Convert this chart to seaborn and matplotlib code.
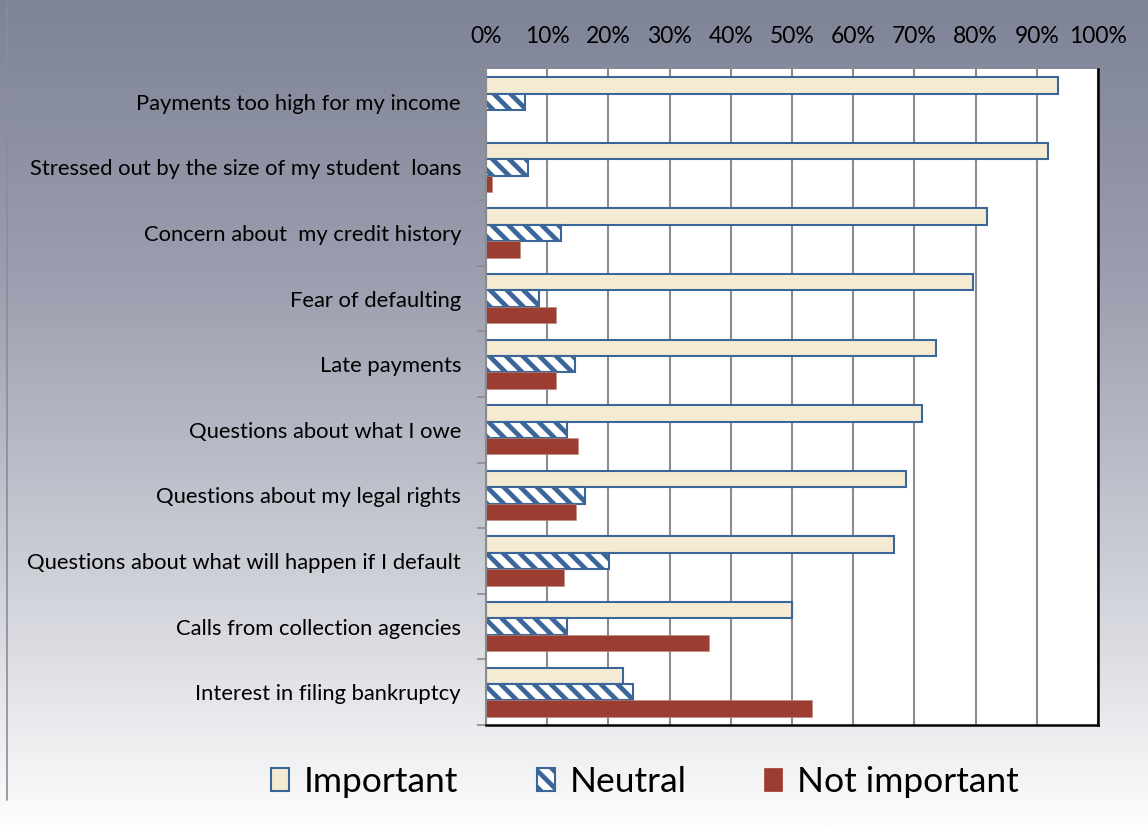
import matplotlib
matplotlib.use("Agg")
import matplotlib.pyplot as plt
import numpy as np
import pandas as pd
import seaborn as sns
from matplotlib.colors import LinearSegmentedColormap
from matplotlib.lines import Line2D
from matplotlib.patches import Patch
from matplotlib.ticker import FixedLocator, FuncFormatter

# Survey results: share of borrowers rating each concern
categories = [
    "Payments too high for my income",
    "Stressed out by the size of my student  loans",
    "Concern about  my credit history",
    "Fear of defaulting",
    "Late payments",
    "Questions about what I owe",
    "Questions about my legal rights",
    "Questions about what will happen if I default",
    "Calls from collection agencies",
    "Interest in filing bankruptcy",
]
important = [93.5, 91.8, 81.8, 79.5, 73.6, 71.3, 68.7, 66.7, 50.0, 22.4]
neutral = [6.4, 6.8, 12.3, 8.7, 14.5, 13.3, 16.2, 20.1, 13.2, 24.0]
not_important = [0.0, 1.0, 5.6, 11.4, 11.4, 15.0, 14.7, 12.7, 36.5, 53.2]
series = ["Important", "Neutral", "Not important"]
x_ticks = list(range(0, 101, 10))

df = pd.DataFrame({
    "category": categories * 3,
    "series": [series[0]] * 10 + [series[1]] * 10 + [series[2]] * 10,
    "value": important + neutral + not_important,
})

CREAM = "#F4EBD2"
BLUE = "#3B6699"
RED = "#9B3D30"
GRID = "#8C8C8C"

sns.set_theme(style="white")
plt.rcParams["font.family"] = ["Lato", "DejaVu Sans"]
plt.rcParams["hatch.linewidth"] = 3.4

W, H = 1148, 826
fig = plt.figure(figsize=(W / 100, H / 100), dpi=100)
fig.patch.set_facecolor("#ffffff")

# vertical slate-to-white backdrop
bg = fig.add_axes([0, 0, 1, 1], zorder=-10)
cmap = LinearSegmentedColormap.from_list(
    "backdrop", ["#7E8396", "#9A9EAE", "#C9CBD4", "#FDFDFD"])
bg.imshow(np.linspace(0, 1, 512)[:, None], aspect="auto", cmap=cmap,
          extent=[0, 1, 0, 1], origin="upper")
bg.set_xlim(0, 1)
bg.set_ylim(0, 1)
bg.axis("off")
fig.add_artist(Line2D([7 / W, 7 / W], [1 - 2 / H, 1 - 800 / H],
                      color="#8A8D99", lw=1.2))

ax = fig.add_axes([486 / W, 1 - 725 / H, 612 / W, 656 / H])
ax.set_facecolor("white")
sns.barplot(data=df, x="value", y="category", hue="series",
            order=categories, hue_order=series, orient="h",
            width=0.75, errorbar=None, saturation=1,
            palette=[CREAM, "white", RED], legend=False, ax=ax)

styles = [
    dict(facecolor=CREAM, edgecolor=BLUE, linewidth=1.5, hatch=None),
    dict(facecolor="white", edgecolor=BLUE, linewidth=1.5, hatch="\\\\"),
    dict(facecolor=RED, edgecolor="#C08A80", linewidth=0.4, hatch=None),
]
for cont, st in zip(ax.containers, styles):
    for bar in cont:
        bar.set_facecolor(st["facecolor"])
        bar.set_edgecolor(st["edgecolor"])
        bar.set_linewidth(st["linewidth"])
        if st["hatch"]:
            bar.set_hatch(st["hatch"])

ax.set_xlim(0, 100)
ax.set_ylim(len(categories) - 0.5, -0.5)
ax.set_xlabel("")
ax.set_ylabel("")

# percentage axis along the top
ax.xaxis.tick_top()
ax.set_xticks(x_ticks)
ax.xaxis.set_major_formatter(FuncFormatter(lambda v, p: f"{int(v)}%"))
ax.tick_params(axis="x", which="major", direction="out", length=5,
               width=1.2, color=GRID, labelsize=16.5, pad=11,
               labelcolor="black")
ax.xaxis.grid(True, color=GRID, linewidth=1.5)
ax.yaxis.grid(False)
ax.set_axisbelow(True)

# category labels centred, tick marks on group boundaries
ax.yaxis.set_minor_locator(FixedLocator(np.arange(-0.5, len(categories), 1.0)))
ax.tick_params(axis="y", which="major", length=0, labelsize=15.8, pad=18,
               labelcolor="black")
ax.tick_params(axis="y", which="minor", direction="out", length=6.5,
               width=1.2, color=GRID, left=True)

ax.spines["top"].set_visible(False)
ax.spines["left"].set_color(GRID)
ax.spines["left"].set_linewidth(1.5)
for side in ("right", "bottom"):
    ax.spines[side].set_color("black")
    ax.spines[side].set_linewidth(1.8)

handles = [
    Patch(facecolor=CREAM, edgecolor=BLUE, linewidth=1.5),
    Patch(facecolor="white", edgecolor=BLUE, linewidth=1.5, hatch="\\\\"),
    Patch(facecolor=RED, edgecolor=RED, linewidth=0.5),
]
leg = fig.legend(handles, series, loc="center", bbox_to_anchor=(0.562, 0.053),
                 ncol=3, frameon=False, fontsize=25.5, handlelength=0.51,
                 handleheight=0.62, handletextpad=0.42, columnspacing=2.2)
for t in leg.get_texts():
    t.set_color("black")

fig.savefig("out.png", dpi=100)
